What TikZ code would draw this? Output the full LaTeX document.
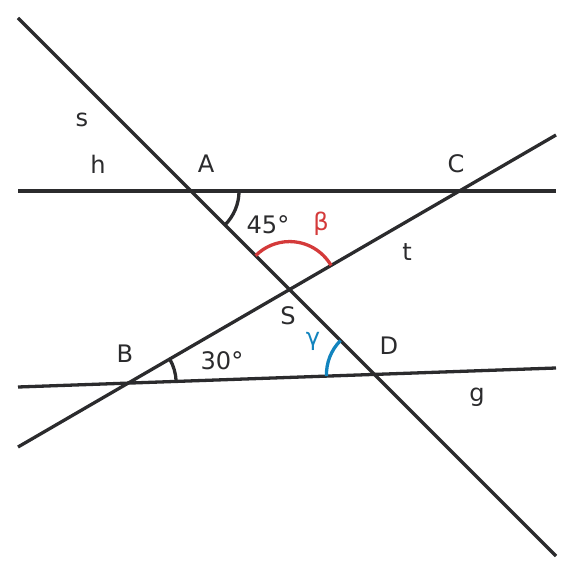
\documentclass[tikz,border=0pt]{standalone}
\usepackage{fontspec}
\setmainfont{DejaVu Sans}
\usetikzlibrary{angles, calc}
\definecolor{linecolor}{RGB}{43,43,45}
\definecolor{betacolor}{RGB}{212,58,58}
\definecolor{gammacolor}{RGB}{18,132,190}
\begin{document}
\begin{tikzpicture}[
    x=0.85pt, y=-0.85pt,
    line/.style={draw=linecolor, line width=2.8pt},
    mark/.style={draw=#1, line width=2.8pt, angle radius=40.8pt},
    lbl/.style={text=#1, font=\fontsize{20.5}{22}\selectfont, inner sep=0pt}
]
    \useasboundingbox (0,0) rectangle (576,576);

    % End points of the four lines
    \coordinate (s1) at (18,18);   \coordinate (s2) at (556,556);
    \coordinate (h1) at (18,191);  \coordinate (h2) at (556,191);
    \coordinate (t1) at (18,447);  \coordinate (t2) at (556,135);
    \coordinate (g1) at (18,387);  \coordinate (g2) at (556,368);

    % Intersections
    \coordinate (A) at (intersection of s1--s2 and h1--h2);
    \coordinate (C) at (intersection of t1--t2 and h1--h2);
    \coordinate (S) at (intersection of s1--s2 and t1--t2);
    \coordinate (B) at (intersection of t1--t2 and g1--g2);
    \coordinate (D) at (intersection of s1--s2 and g1--g2);

    % Lines
    \draw[line] (s1) -- (s2);
    \draw[line] (h1) -- (h2);
    \draw[line] (t1) -- (t2);
    \draw[line] (g1) -- (g2);

    % Angles
    \pic[mark=linecolor] {angle = D--A--C};
    \pic[mark=betacolor] {angle = C--S--A};
    \pic[mark=gammacolor] {angle = S--D--B};
    \pic[mark=linecolor] {angle = D--B--S};

    % Labels
    \node[lbl=linecolor] (ls) at (82,120) {s};
    \node[lbl=linecolor] (lh) at (98,164) {h};
    \node[lbl=linecolor] (lt) at (407,252) {t};
    \node[lbl=linecolor] (lg) at (477,397) {g};
    \node[lbl=linecolor] (lA) at (206,164) {A};
    \node[lbl=linecolor] (lC) at (456,164) {C};
    \node[lbl=linecolor] (lS) at (288,316) {S};
    \node[lbl=linecolor] (lB) at (125,354) {B};
    \node[lbl=linecolor] (lD) at (389,346) {D};
    \node[lbl=linecolor] (a45) at (268,225) {45°};
    \node[lbl=linecolor] (a30) at (222,361) {30°};
    \node[lbl=betacolor] (beta) at (321,224) {β};
    \node[lbl=gammacolor] (gamma) at (313,341) {γ};
\end{tikzpicture}
\end{document}
